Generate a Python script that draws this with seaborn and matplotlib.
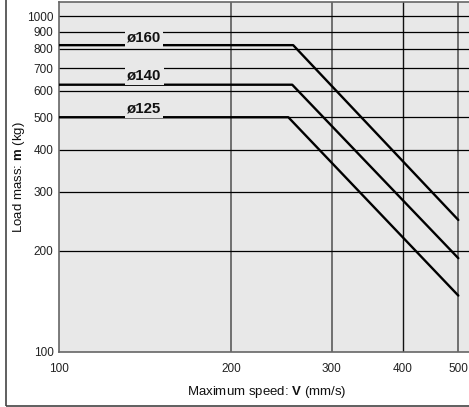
import matplotlib
matplotlib.use("Agg")
import matplotlib.pyplot as plt
import matplotlib.ticker as mticker
from matplotlib.patches import Rectangle
import seaborn as sns
import pandas as pd

sns.set_style("white")
plt.rcParams["font.family"] = ["Liberation Sans", "DejaVu Sans"]
plt.rcParams["mathtext.fontset"] = "custom"
plt.rcParams["mathtext.bf"] = "Liberation Sans:bold"
plt.rcParams["mathtext.rm"] = "Liberation Sans"

# Load curves: speed (mm/s) vs load mass (kg) per bore size
speed_160 = [100, 257, 500]
mass_160 = [820, 820, 247]
speed_140 = [100, 256, 500]
mass_140 = [625, 625, 190]
speed_125 = [100, 252, 500]
mass_125 = [500, 500, 147]

labels = ["ø160", "ø140", "ø125"]
label_x = [141, 141, 141]
label_y = [862, 664, 530]

x_ticks = [100, 200, 300, 400, 500]
y_ticks = [100, 200, 300, 400, 500, 600, 700, 800, 900, 1000]

df = pd.concat([
    pd.DataFrame({"speed": speed_160, "mass": mass_160, "bore": "ø160"}),
    pd.DataFrame({"speed": speed_140, "mass": mass_140, "bore": "ø140"}),
    pd.DataFrame({"speed": speed_125, "mass": mass_125, "bore": "ø125"}),
])

fig = plt.figure(figsize=(4.69, 4.07), dpi=100)
ax = fig.add_axes([59 / 469, 1 - 351.7 / 407, 1 - 59 / 469, (351.7 - 1.7) / 407])
ax.set_facecolor("#e8e8e8")

ax.set_xscale("log")
ax.set_yscale("log")
ax.set_xlim(100, 522)
ax.set_ylim(100, 1105)

# grid lines
for v in x_ticks[1:]:
    ax.axvline(v, color="#111111" if v == 400 else "#666666", lw=1.0 if v == 400 else 1.3, zorder=1)
for v in y_ticks[1:]:
    ax.axhline(v, color="black", lw=0.9, zorder=1)

sns.lineplot(data=df, x="speed", y="mass", units="bore", estimator=None,
             color="black", lw=1.7, ax=ax, zorder=3, sort=False)

for t, x, y in zip(labels, label_x, label_y):
    ax.text(x, y, t, ha="center", va="center", fontsize=10.8, fontweight="bold",
            color="#111111", zorder=4,
            bbox=dict(facecolor="#e8e8e8", edgecolor="none", pad=1.5))

ax.xaxis.set_major_locator(mticker.FixedLocator(x_ticks))
ax.xaxis.set_minor_locator(mticker.NullLocator())
ax.yaxis.set_major_locator(mticker.FixedLocator(y_ticks))
ax.yaxis.set_minor_locator(mticker.NullLocator())
ax.xaxis.set_major_formatter(mticker.FixedFormatter([str(v) for v in x_ticks]))
ax.yaxis.set_major_formatter(mticker.FixedFormatter([str(v) for v in y_ticks]))
ax.tick_params(axis="both", length=0, labelsize=8.5, colors="#222222")
ax.tick_params(axis="x", pad=8)
ax.tick_params(axis="y", pad=4)

for s in ax.spines.values():
    s.set_color("#666666")
    s.set_linewidth(1.2)
ax.spines["right"].set_visible(False)

ax.set_xlabel(r"Maximum speed: $\mathbf{V}$ (mm/s)", fontsize=9.5, color="#111111")
ax.set_ylabel(r"Load mass: $\mathbf{m}$ (kg)", fontsize=9.5, color="#111111")
ax.xaxis.set_label_coords(0.507, -0.092)
ax.yaxis.set_label_coords(-0.077, 0.5)

fig.patches.append(Rectangle((6 / 469, 1 - 405.5 / 407), 1, 1.1, transform=fig.transFigure,
                             fill=False, edgecolor="#444444", lw=1.2, zorder=0))

fig.savefig("out.png", dpi=100)
